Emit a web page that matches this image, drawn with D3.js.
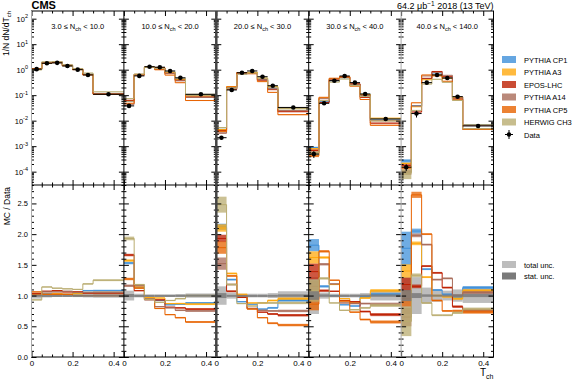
<!DOCTYPE html>
<html>
<head>
<meta charset="utf-8">
<script src="https://cdn.jsdelivr.net/npm/d3@7"></script>
<style>
body { margin: 0; background: #fff; }
text { font-family: "Liberation Sans", Arial, sans-serif; fill: #000; }
</style>
</head>
<body>
<div id="app"></div>
<script>
'use strict'
const W = 580, H = 380
const left = 31.5, right = 493.5
const pw = (right - left) / 5
const topY = 11, midY = 185, botY = 357

// bins in T_ch, same for each multiplicity class
const binEdges = [0, 0.05, 0.1, 0.15, 0.2, 0.25, 0.3, 0.45]
const nchLo = ['3.0', '10.0', '20.0', '30.0', '40.0']
const nchHi = ['10.0', '20.0', '30.0', '40.0', '140.0']

// 1/N dN/dT_ch, data
const dataVals = [
  [1.05, 1.78, 1.85, 1.40, 1.00, 0.62, 0.108],
  [0.038, 0.57, 1.31, 1.25, 0.89, 0.48, 0.108],
  [0.00215, 0.16, 0.76, 0.89, 0.53, 0.235, 0.033],
  [0.00049, 0.048, 0.37, 0.565, 0.31, 0.111, 0.0116],
  [0.00015, 0.019, 0.31, 0.62, 0.47, 0.087, 0.0062]
]
// relative uncertainties of data
const totUnc = [
  [0.05, 0.03, 0.02, 0.02, 0.025, 0.03, 0.035],
  [0.08, 0.03, 0.02, 0.02, 0.02, 0.025, 0.035],
  [0.15, 0.05, 0.03, 0.03, 0.03, 0.04, 0.07],
  [0.30, 0.05, 0.03, 0.03, 0.03, 0.04, 0.08],
  [0.30, 0.30, 0.13, 0.10, 0.08, 0.10, 0.12]
]
const statUnc = [
  [0.015, 0.01, 0.01, 0.01, 0.01, 0.012, 0.015],
  [0.025, 0.01, 0.01, 0.01, 0.01, 0.012, 0.015],
  [0.04, 0.012, 0.01, 0.01, 0.01, 0.012, 0.02],
  [0.07, 0.02, 0.01, 0.01, 0.012, 0.015, 0.02],
  [0.09, 0.04, 0.02, 0.015, 0.015, 0.02, 0.025]
]

const models = ['PYTHIA CP1', 'PYTHIA A3', 'EPOS-LHC', 'PYTHIA A14', 'PYTHIA CP5', 'HERWIG CH3']
const modelColors = ['#3f90da', '#ffa90e', '#bd1f01', '#a96b59', '#e76300', '#b9ac70']

// MC / Data
const ratioCP1 = [
  [1.00, 1.03, 1.02, 1.02, 1.03, 1.08, 1.08],
  [1.53, 1.13, 0.95, 0.92, 0.85, 0.86, 0.88],
  [2.12, 1.26, 0.90, 0.86, 0.78, 0.80, 0.92],
  [1.82, 1.15, 1.00, 0.85, 0.83, 0.98, 1.02],
  [1.77, 2.05, 1.43, 1.09, 1.02, 0.97, 1.13]
]
const ratioA3 = [
  [1.02, 1.02, 1.03, 1.02, 1.03, 1.05, 1.05],
  [1.57, 1.14, 0.97, 0.96, 0.87, 0.87, 0.86],
  [2.10, 1.36, 1.02, 0.88, 0.88, 0.92, 0.95],
  [1.62, 1.62, 1.18, 0.95, 0.88, 0.96, 1.08],
  [1.40, 1.85, 1.30, 1.00, 0.98, 0.95, 1.08]
]
const ratioEPOS = [
  [1.03, 1.07, 1.08, 1.06, 1.06, 1.04, 1.04],
  [1.66, 1.08, 0.94, 0.93, 0.81, 0.80, 0.78],
  [1.93, 1.07, 0.97, 0.79, 0.73, 0.70, 0.68],
  [1.39, 1.08, 1.07, 0.92, 0.90, 0.74, 0.69],
  [1.18, 1.15, 1.48, 1.37, 1.13, 0.82, 0.76]
]
const ratioA14 = [
  [1.00, 1.06, 1.06, 1.07, 1.05, 1.05, 1.05],
  [1.16, 1.16, 0.93, 0.82, 0.80, 0.76, 0.75],
  [1.52, 1.18, 1.00, 0.79, 0.76, 0.75, 0.75],
  [1.15, 1.51, 1.19, 0.88, 0.87, 0.87, 0.86],
  [0.65, 1.98, 1.83, 1.26, 1.28, 1.00, 1.05]
]
const ratioCP5 = [
  [1.06, 1.02, 1.02, 1.02, 1.00, 1.00, 1.00],
  [1.27, 1.12, 0.94, 0.79, 0.69, 0.64, 0.57],
  [1.78, 1.32, 0.99, 0.78, 0.64, 0.55, 0.52],
  [0.86, 1.72, 1.25, 0.91, 0.73, 0.61, 0.57],
  [0.95, 2.64, 2.00, 0.92, 0.75, 0.75, 0.73]
]
const ratioCH3 = [
  [0.93, 1.14, 1.12, 1.11, 1.10, 1.19, 1.25],
  [1.93, 1.18, 0.94, 0.89, 0.92, 0.95, 1.00],
  [2.48, 1.18, 0.87, 0.83, 0.88, 0.88, 0.88],
  [1.08, 1.28, 0.88, 0.76, 0.77, 0.80, 0.84],
  [0.58, 1.33, 0.88, 0.68, 0.68, 0.72, 0.78]
]
// MC uncertainty (in ratio units)
const uncCP1 = [
  [.01, .01, .01, .01, .01, .012, .015], [.02, .01, .01, .01, .01, .012, .015],
  [.05, .015, .01, .01, .01, .015, .02], [.10, .02, .01, .01, .012, .015, .025],
  [.27, .04, .015, .015, .015, .02, .025]
]
const uncA3 = [
  [.01, .01, .01, .01, .01, .012, .015], [.02, .01, .01, .01, .01, .012, .015],
  [.06, .015, .01, .01, .01, .015, .02], [.10, .02, .01, .01, .012, .015, .025],
  [.11, .03, .015, .015, .015, .02, .025]
]
const uncEPOS = [
  [.01, .01, .01, .01, .01, .012, .015], [.02, .01, .01, .01, .01, .012, .015],
  [.06, .015, .01, .01, .01, .015, .02], [.13, .02, .01, .01, .012, .015, .025],
  [.11, .03, .015, .015, .015, .02, .025]
]
const uncA14 = [
  [.01, .01, .01, .01, .01, .012, .015], [.02, .01, .01, .01, .01, .012, .015],
  [.10, .015, .01, .01, .01, .015, .02], [.10, .02, .01, .01, .012, .015, .025],
  [.15, .03, .015, .015, .015, .02, .025]
]
const uncCP5 = [
  [.01, .01, .01, .01, .01, .012, .015], [.02, .01, .01, .01, .01, .012, .015],
  [.10, .015, .01, .01, .01, .015, .02], [.10, .02, .01, .01, .012, .015, .025],
  [.13, .05, .015, .015, .015, .02, .025]
]
const uncCH3 = [
  [.01, .01, .01, .01, .01, .012, .015], [.03, .01, .01, .01, .01, .012, .015],
  [.13, .015, .01, .01, .01, .015, .02], [.18, .02, .01, .01, .012, .015, .025],
  [.24, .03, .015, .015, .015, .02, .025]
]
const ratios = [ratioCP1, ratioA3, ratioEPOS, ratioA14, ratioCP5, ratioCH3]
const uncs = [uncCP1, uncA3, uncEPOS, uncA14, uncCP5, uncCH3]

const topTicks = [1e2, 1e1, 1e0, 1e-1, 1e-2, 1e-3, 1e-4]
const ratioTicks = [0, 0.5, 1.0, 1.5, 2.0, 2.5]
const xTicks = [0, 0.2, 0.4]

const svg = d3.select('#app').append('svg')
  .attr('width', W)
  .attr('height', H)

const yTop = d3.scaleLog().domain([3e-5, 200]).range([midY, topY])
const yRat = d3.scaleLinear().domain([0, 2.8]).range([botY, midY])

const minorLog = []
d3.range(-5, 3).forEach(e => d3.range(2, 10).forEach(k => {
  const v = k * Math.pow(10, e)
  if (v > 3e-5 && v < 200) minorLog.push(v)
}))
const minorRat = d3.range(0, 28).map(i => i / 10).filter(v => Math.abs(v * 2 - Math.round(v * 2)) > 1e-6)
const minorX = d3.range(0, 9).map(i => i * 0.05).filter(v => Math.abs(v / 0.2 - Math.round(v / 0.2)) > 1e-6)

const defs = svg.append('defs')

const stepLine = (x, y) => d3.line()
  .x(d => x(d[0]))
  .y(d => y(d[1]))
  .curve(d3.curveStepAfter)

d3.range(5).forEach(p => {
  const x0 = left + p * pw
  const x = d3.scaleLinear().domain([0, 0.45]).range([x0, x0 + pw])
  const bins = d3.range(7)

  defs.append('clipPath').attr('id', `ct${p}`)
    .append('rect').attr('x', x0).attr('y', topY).attr('width', pw).attr('height', midY - topY)
  defs.append('clipPath').attr('id', `cr${p}`)
    .append('rect').attr('x', x0).attr('y', midY).attr('width', pw).attr('height', botY - midY)

  // ---- top panel
  const gt = svg.append('g').attr('clip-path', `url(#ct${p})`)
  ratios.forEach((rat, m) => {
    const vals = bins.map(i => dataVals[p][i] * rat[p][i])
    gt.append('g').selectAll('rect').data(bins).enter().append('rect')
      .attr('x', i => x(binEdges[i]))
      .attr('width', i => x(binEdges[i + 1]) - x(binEdges[i]))
      .attr('y', i => yTop(dataVals[p][i] * (rat[p][i] + uncs[m][p][i])))
      .attr('height', i => yTop(dataVals[p][i] * (rat[p][i] - uncs[m][p][i])) - yTop(dataVals[p][i] * (rat[p][i] + uncs[m][p][i])))
      .style('fill', modelColors[m])
      .style('opacity', 0.75)
    const pts = bins.map(i => [binEdges[i], vals[i]]).concat([[binEdges[7], vals[6]]])
    gt.append('path')
      .attr('d', stepLine(x, yTop)(pts))
      .style('fill', 'none')
      .style('stroke', modelColors[m])
      .style('stroke-width', 1)
  })
  const gd = gt.append('g')
  gd.selectAll('line.h').data(bins).enter().append('line')
    .attr('x1', i => x(binEdges[i])).attr('x2', i => x(binEdges[i + 1]))
    .attr('y1', i => yTop(dataVals[p][i])).attr('y2', i => yTop(dataVals[p][i]))
    .style('stroke', '#000').style('stroke-width', 1)
  gd.selectAll('line.v').data(bins).enter().append('line')
    .attr('x1', i => x((binEdges[i] + binEdges[i + 1]) / 2)).attr('x2', i => x((binEdges[i] + binEdges[i + 1]) / 2))
    .attr('y1', i => yTop(dataVals[p][i] * (1 + totUnc[p][i])))
    .attr('y2', i => yTop(dataVals[p][i] * (1 - totUnc[p][i])))
    .style('stroke', '#000').style('stroke-width', 1)
  gd.selectAll('circle').data(bins).enter().append('circle')
    .attr('cx', i => x((binEdges[i] + binEdges[i + 1]) / 2))
    .attr('cy', i => yTop(dataVals[p][i]))
    .attr('r', 2.3)
    .style('fill', '#000')

  // ---- ratio panel
  const gr = svg.append('g').attr('clip-path', `url(#cr${p})`)
  gr.append('g').selectAll('rect').data(bins).enter().append('rect')
    .attr('x', i => x(binEdges[i]))
    .attr('width', i => x(binEdges[i + 1]) - x(binEdges[i]))
    .attr('y', i => yRat(1 + totUnc[p][i]))
    .attr('height', i => yRat(1 - totUnc[p][i]) - yRat(1 + totUnc[p][i]))
    .style('fill', '#bdbdbd')
  ratios.forEach((rat, m) => {
    gr.append('g').selectAll('rect').data(bins).enter().append('rect')
      .attr('x', i => x(binEdges[i]))
      .attr('width', i => x(binEdges[i + 1]) - x(binEdges[i]))
      .attr('y', i => yRat(rat[p][i] + uncs[m][p][i]))
      .attr('height', i => yRat(rat[p][i] - uncs[m][p][i]) - yRat(rat[p][i] + uncs[m][p][i]))
      .style('fill', modelColors[m])
      .style('opacity', 0.75)
    const pts = bins.map(i => [binEdges[i], rat[p][i]]).concat([[binEdges[7], rat[p][6]]])
    gr.append('path')
      .attr('d', stepLine(x, yRat)(pts))
      .style('fill', 'none')
      .style('stroke', modelColors[m])
      .style('stroke-width', 1)
  })
  gr.append('g').selectAll('rect').data(bins).enter().append('rect')
    .attr('x', i => x(binEdges[i]))
    .attr('width', i => x(binEdges[i + 1]) - x(binEdges[i]))
    .attr('y', i => yRat(1 + statUnc[p][i]))
    .attr('height', i => Math.max(2, yRat(1 - statUnc[p][i]) - yRat(1 + statUnc[p][i])))
    .style('fill', '#7a7a7a')
    .style('opacity', 0.85)

  // ---- axes / ticks
  const tick = (g) => g.call(s => s.select('.domain').remove())
    .call(s => s.selectAll('line').style('stroke', '#000').style('stroke-width', 1))
  const noLab = s => s.selectAll('text').remove()

  // y ticks, left & right edges (inward)
  svg.append('g').attr('transform', `translate(${x0},0)`)
    .call(d3.axisLeft(yTop).tickValues(topTicks).tickSize(-5)).call(tick).call(noLab)
  svg.append('g').attr('transform', `translate(${x0},0)`)
    .call(d3.axisLeft(yTop).tickValues(minorLog).tickSize(-2.5)).call(tick).call(noLab)
  svg.append('g').attr('transform', `translate(${x0 + pw},0)`)
    .call(d3.axisRight(yTop).tickValues(topTicks).tickSize(-5)).call(tick).call(noLab)
  svg.append('g').attr('transform', `translate(${x0 + pw},0)`)
    .call(d3.axisRight(yTop).tickValues(minorLog).tickSize(-2.5)).call(tick).call(noLab)
  svg.append('g').attr('transform', `translate(${x0},0)`)
    .call(d3.axisLeft(yRat).tickValues(ratioTicks).tickSize(-5)).call(tick).call(noLab)
  svg.append('g').attr('transform', `translate(${x0},0)`)
    .call(d3.axisLeft(yRat).tickValues(minorRat).tickSize(-2.5)).call(tick).call(noLab)
  svg.append('g').attr('transform', `translate(${x0 + pw},0)`)
    .call(d3.axisRight(yRat).tickValues(ratioTicks).tickSize(-5)).call(tick).call(noLab)
  svg.append('g').attr('transform', `translate(${x0 + pw},0)`)
    .call(d3.axisRight(yRat).tickValues(minorRat).tickSize(-2.5)).call(tick).call(noLab)

  // x ticks
  const xa = [[d3.axisTop, topY], [d3.axisBottom, midY], [d3.axisTop, midY]]
  xa.forEach(([ax, yy]) => {
    svg.append('g').attr('transform', `translate(0,${yy})`)
      .call(ax(x).tickValues(xTicks).tickSize(-5)).call(tick).call(noLab)
    svg.append('g').attr('transform', `translate(0,${yy})`)
      .call(ax(x).tickValues(minorX).tickSize(-2.5)).call(tick).call(noLab)
  })
  svg.append('g').attr('transform', `translate(0,${botY})`)
    .call(d3.axisBottom(x).tickValues(minorX).tickSize(-2.5)).call(tick).call(noLab)
  svg.append('g').attr('transform', `translate(0,${botY})`)
    .call(d3.axisBottom(x).tickValues(xTicks).tickSize(-5).tickPadding(3)
      .tickFormat(d => d === 0 ? '0' : d3.format('.1f')(d)))
    .call(tick)
    .call(s => s.selectAll('text').style('font-size', '8px').style('font-family', '"Liberation Sans", Arial, sans-serif'))

  // panel label
  const lab = svg.append('text')
    .attr('x', x0 + pw / 2).attr('y', 29)
    .attr('text-anchor', 'middle')
    .style('font-size', '7.5px')
  lab.append('tspan').text(`${nchLo[p]} \u2264 N`)
  lab.append('tspan').attr('font-size', '5.5px').attr('dy', 1.8).text('ch')
  lab.append('tspan').attr('dy', -1.8).text(` < ${nchHi[p]}`)
})

// frames
svg.append('rect').attr('x', left).attr('y', topY).attr('width', right - left).attr('height', botY - topY)
  .style('fill', 'none').style('stroke', '#000').style('stroke-width', 1)
svg.append('line').attr('x1', left).attr('x2', right).attr('y1', midY).attr('y2', midY)
  .style('stroke', '#000').style('stroke-width', 1.2)
const borderColor = ['#aaa', '#000', '#444', '#000', '#aaa']
const borderWidth = [1, 1, 2.5, 1, 1]
d3.range(5).forEach(p => {
  svg.append('line')
    .attr('x1', left + p * pw).attr('x2', left + p * pw)
    .attr('y1', topY).attr('y2', botY)
    .style('stroke', borderColor[p]).style('stroke-width', borderWidth[p])
})

// y tick labels
topTicks.forEach(v => {
  const t = svg.append('text')
    .attr('x', 28).attr('y', yTop(v) + 3)
    .attr('text-anchor', 'end')
    .style('font-size', '7.5px')
  t.append('tspan').text('10')
  t.append('tspan').attr('dy', -3.5).style('font-size', '5.5px').text(Math.round(Math.log10(v)))
})
ratioTicks.forEach(v => {
  svg.append('text')
    .attr('x', 28).attr('y', yRat(v) + 3)
    .attr('text-anchor', 'end')
    .style('font-size', '7.5px')
    .text(d3.format('.1f')(v))
})

// axis titles
const yt = svg.append('text')
  .attr('transform', `translate(9,${topY}) rotate(-90)`)
  .attr('text-anchor', 'end')
  .style('font-size', '8.5px')
yt.append('tspan').text('1/N dN/dT')
yt.append('tspan').attr('dy', 2).style('font-size', '6px').text('ch')
svg.append('text')
  .attr('transform', `translate(10,${midY + 2}) rotate(-90)`)
  .attr('text-anchor', 'end')
  .style('font-size', '8.5px')
  .text('MC / Data')
const xt = svg.append('text')
  .attr('x', right).attr('y', 376)
  .attr('text-anchor', 'end')
  .style('font-size', '10px')
xt.append('tspan').text('T')
xt.append('tspan').attr('dy', 2.5).style('font-size', '7px').text('ch')

// header
svg.append('text').attr('x', left).attr('y', 9)
  .style('font-size', '11px').style('font-weight', 'bold').text('CMS')
const hd = svg.append('text').attr('x', right).attr('y', 9)
  .attr('text-anchor', 'end').style('font-size', '9px')
hd.append('tspan').text('64.2 \u03bcb')
hd.append('tspan').attr('dy', -3.5).style('font-size', '6.5px').text('\u22121')
hd.append('tspan').attr('dy', 3.5).text(' 2018 (13 TeV)')

// legend
const leg = svg.append('g')
models.forEach((name, m) => {
  const yy = 59.5 + m * 12.5
  leg.append('rect').attr('x', 502).attr('y', yy - 3.5).attr('width', 14).attr('height', 7)
    .style('fill', modelColors[m]).style('opacity', 0.8)
  leg.append('text').attr('x', 524).attr('y', yy + 3).style('font-size', '7.5px').text(name)
})
const dy = 59.5 + 6 * 12.5
leg.append('line').attr('x1', 505).attr('x2', 513).attr('y1', dy).attr('y2', dy).style('stroke', '#000')
leg.append('line').attr('x1', 509).attr('x2', 509).attr('y1', dy - 4.5).attr('y2', dy + 4.5).style('stroke', '#000')
leg.append('circle').attr('cx', 509).attr('cy', dy).attr('r', 2.2).style('fill', '#000')
leg.append('text').attr('x', 524).attr('y', dy + 3).style('font-size', '7.5px').text('Data')
const uncLeg = [['total unc.', '#bdbdbd', 264.5], ['stat. unc.', '#7a7a7a', 276]]
uncLeg.forEach(([name, c, yy]) => {
  leg.append('rect').attr('x', 502).attr('y', yy - 3.5).attr('width', 14).attr('height', 7).style('fill', c)
  leg.append('text').attr('x', 524).attr('y', yy + 3).style('font-size', '7.5px').text(name)
})
</script>
</body>
</html>
